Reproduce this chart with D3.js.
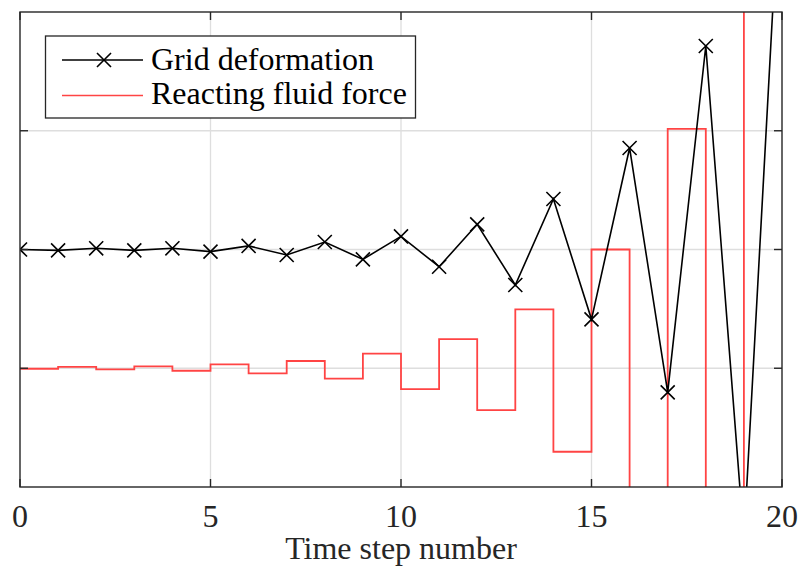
<!DOCTYPE html>
<html>
<head>
<meta charset="utf-8">
<script src="https://cdn.jsdelivr.net/npm/d3@7"></script>
<style>
  body { margin: 0; background: #fff; }
  svg { display: block; }
  text { font-family: 'Liberation Serif', 'Times New Roman', Times, serif; }
</style>
</head>
<body>
<script>
const width = 799;
const height = 568;

// time steps and readings (y in plot units, gridlines at -1, 0, 1)
const steps = d3.range(0, 21);
const gridDeformation = [0.0, -0.007, 0.01, -0.007, 0.01, -0.018, 0.03, -0.046, 0.063, -0.083,
  0.11, -0.145, 0.212, -0.299, 0.425, -0.588, 0.855, -1.203, 1.714, -2.44, 3.45];
const fluidForce = [-1.004, -0.989, -1.009, -0.984, -1.021, -0.967, -1.043, -0.939, -1.088, -0.877,
  -1.175, -0.754, -1.352, -0.504, -1.703, 0.0, -2.42, 1.015, -3.87, 3.07];
const xTicks = [0, 5, 10, 15, 20];
const yTicks = [-1, 0, 1];
const legendItems = ['Grid deformation', 'Reacting fluid force'];

const margin = { top: 12, right: 17, bottom: 81, left: 20 };

const x = d3.scaleLinear([0, 20], [margin.left, width - margin.right]);
const y = d3.scaleLinear([-2, 2], [height - margin.bottom, margin.top]);

const svg = d3.select('body')
  .append('svg')
  .attr('width', width)
  .attr('height', height);

svg.append('defs').append('clipPath')
  .attr('id', 'clip')
  .append('rect')
    .attr('x', x(0))
    .attr('y', y(2))
    .attr('width', x(20) - x(0))
    .attr('height', y(-2) - y(2));

// grid
svg.append('g')
  .attr('stroke', '#dedede')
  .attr('stroke-width', 1.3)
  .call(g => g.selectAll('.vx')
    .data(xTicks.slice(1, -1))
    .join('line')
      .attr('x1', d => x(d)).attr('x2', d => x(d))
      .attr('y1', y(2)).attr('y2', y(-2)))
  .call(g => g.selectAll('.hy')
    .data(yTicks)
    .join('line')
      .attr('x1', x(0)).attr('x2', x(20))
      .attr('y1', d => y(d)).attr('y2', d => y(d)));

const plot = svg.append('g').attr('clip-path', 'url(#clip)');

// reacting fluid force as stairs
const stairs = fluidForce.map((v, i) => [steps[i], v]);
stairs.push([steps[fluidForce.length], fluidForce[fluidForce.length - 1]]);

plot.append('path')
  .datum(stairs)
  .attr('fill', 'none')
  .attr('stroke', '#ff4444')
  .attr('stroke-width', 1.8)
  .attr('d', d3.line()
    .x(d => x(d[0]))
    .y(d => y(d[1]))
    .curve(d3.curveStepAfter));

// grid deformation line with x markers
plot.append('path')
  .datum(gridDeformation)
  .attr('fill', 'none')
  .attr('stroke', '#000')
  .attr('stroke-width', 1.6)
  .attr('d', d3.line()
    .x((d, i) => x(steps[i]))
    .y(d => y(d)));

const cross = d3.symbol(d3.symbolX, 130);

plot.append('g')
  .selectAll('path')
  .data(gridDeformation)
  .join('path')
    .attr('transform', (d, i) => `translate(${x(steps[i])},${y(d)})`)
    .attr('d', cross)
    .attr('fill', 'none')
    .attr('stroke', '#000')
    .attr('stroke-width', 1.6);

// axes box and ticks
const axisColor = '#262626';
const tickLen = 8;

svg.append('rect')
  .attr('x', x(0))
  .attr('y', y(2))
  .attr('width', x(20) - x(0))
  .attr('height', y(-2) - y(2))
  .attr('fill', 'none')
  .attr('stroke', axisColor)
  .attr('stroke-width', 1.4);

const ticks = svg.append('g')
  .attr('stroke', axisColor)
  .attr('stroke-width', 1.4);

xTicks.forEach(t => {
  ticks.append('line')
    .attr('x1', x(t)).attr('x2', x(t))
    .attr('y1', y(-2)).attr('y2', y(-2) - tickLen);
  ticks.append('line')
    .attr('x1', x(t)).attr('x2', x(t))
    .attr('y1', y(2)).attr('y2', y(2) + tickLen);
});

yTicks.forEach(t => {
  ticks.append('line')
    .attr('x1', x(0)).attr('x2', x(0) + tickLen)
    .attr('y1', y(t)).attr('y2', y(t));
  ticks.append('line')
    .attr('x1', x(20)).attr('x2', x(20) - tickLen)
    .attr('y1', y(t)).attr('y2', y(t));
});

svg.append('g')
  .attr('font-size', 32)
  .attr('fill', axisColor)
  .attr('text-anchor', 'middle')
  .selectAll('text')
  .data(xTicks)
  .join('text')
    .attr('x', d => x(d))
    .attr('y', 527)
    .text(d => d);

svg.append('text')
  .attr('x', (x(0) + x(20)) / 2)
  .attr('y', 559)
  .attr('text-anchor', 'middle')
  .attr('font-size', 32)
  .attr('fill', axisColor)
  .text('Time step number');

// legend
const legend = svg.append('g');

legend.append('rect')
  .attr('x', 45.5)
  .attr('y', 36)
  .attr('width', 370)
  .attr('height', 82)
  .attr('fill', '#fff')
  .attr('stroke', axisColor)
  .attr('stroke-width', 1.3);

const rowY = [60, 95.5];
const baseY = [70, 104];
const legendColors = ['#000', '#ff4444'];

legendItems.forEach((label, i) => {
  legend.append('line')
    .attr('x1', 62).attr('x2', 143)
    .attr('y1', rowY[i]).attr('y2', rowY[i])
    .attr('stroke', legendColors[i])
    .attr('stroke-width', 1.7);
  legend.append('text')
    .attr('x', 151)
    .attr('y', baseY[i])
    .attr('font-size', 32)
    .attr('fill', '#000')
    .text(label);
});

legend.append('path')
  .attr('transform', `translate(104,${rowY[0]})`)
  .attr('d', cross)
  .attr('fill', 'none')
  .attr('stroke', '#000')
  .attr('stroke-width', 1.6);
</script>
</body>
</html>
